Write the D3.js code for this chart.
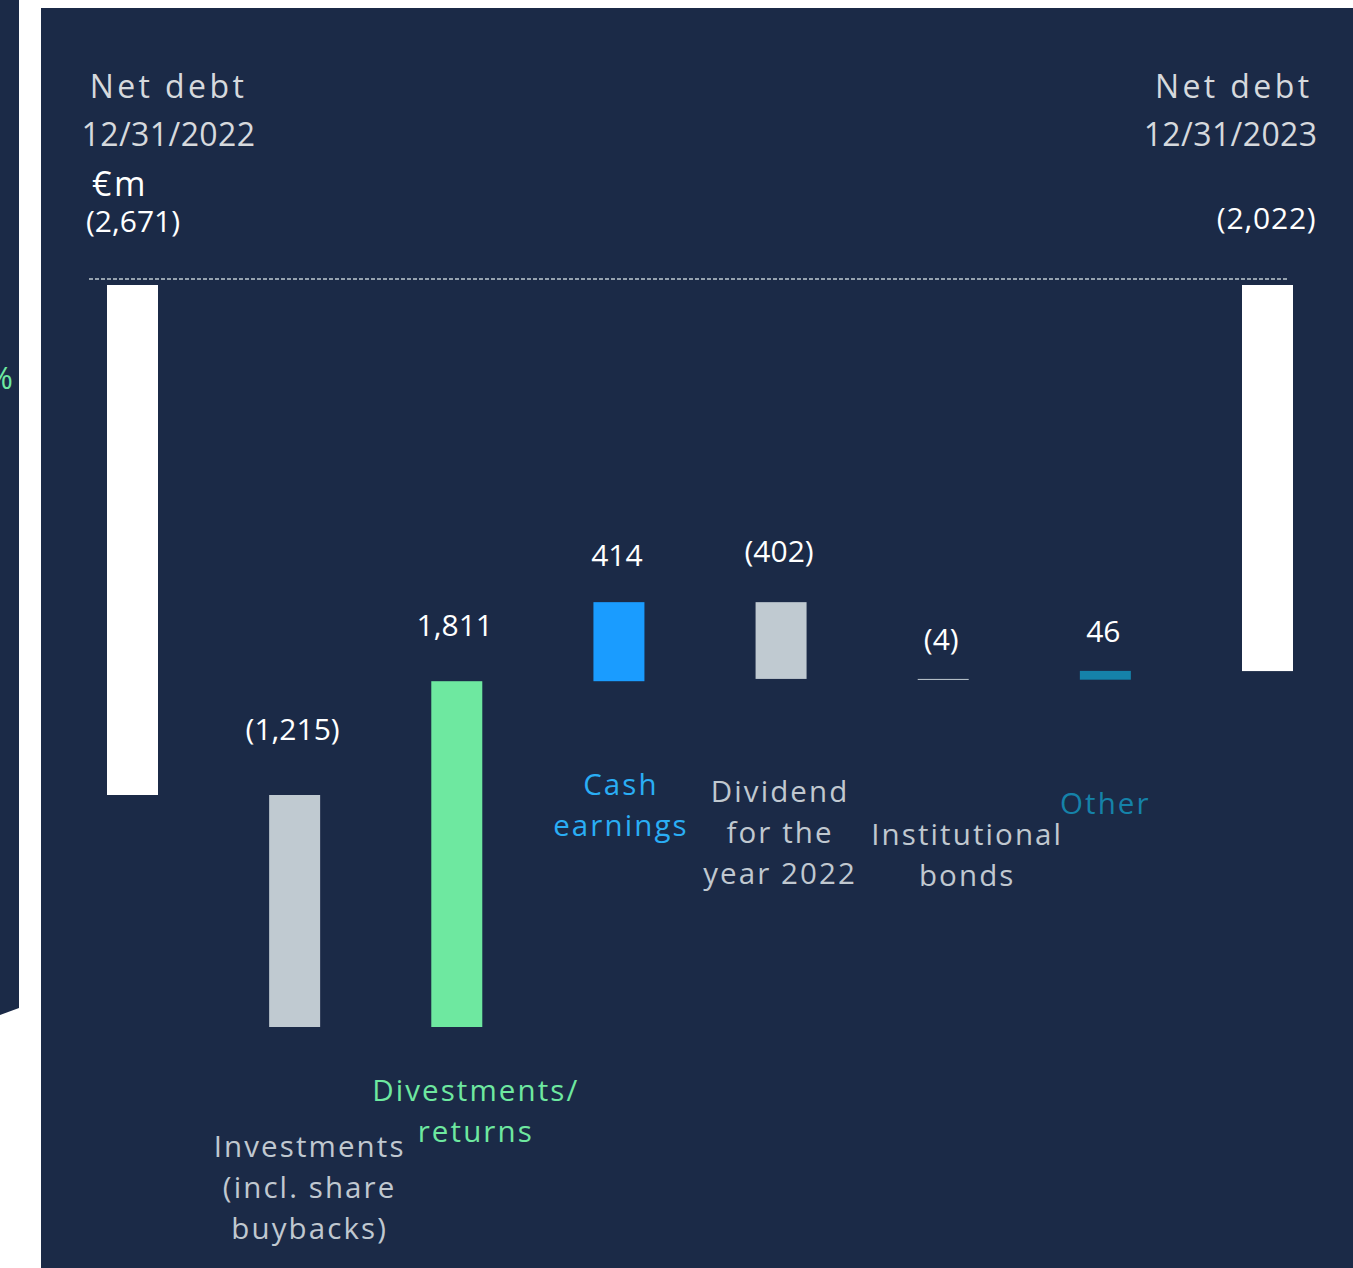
<html>
<head>
<meta charset="utf-8">
<script src="https://d3js.org/d3.v7.min.js"></script>
<style>
  body { margin: 0; background: #fff; }
  text { font-family: "Open Sans", Lato, sans-serif; }
</style>
</head>
<body>
<svg id="svg" width="1353" height="1268"></svg>
<script>
'use strict';

const width = 1353;
const height = 1268;

// data
const categories = ['start', 'investments', 'divestments', 'cash', 'dividend', 'bonds', 'other', 'end'];
const values = [-2671, -1215, 1811, 414, -402, -4, 46, -2022];
const isTotal = [true, false, false, false, false, false, false, true];
const valueLabels = ['(2,671)', '(1,215)', '1,811', '414', '(402)', '(4)', '46', '(2,022)'];
const categoryLabels = [
	[],
	['Investments', '(incl. share', 'buybacks)'],
	['Divestments/', 'returns'],
	['Cash', 'earnings'],
	['Dividend', 'for the', 'year 2022'],
	['Institutional', 'bonds'],
	['Other'],
	[]
];

// layout / styling (not data)
const barColors = ['#ffffff', '#c0cad1', '#6ee8a0', '#1a9cff', '#c0cad1', '#c0cad1', '#1582a9', '#ffffff'];
const labelColors = ['#d6d9dd', '#c0c8d0', '#6ee8a0', '#2aaef5', '#c0c8d0', '#c0c8d0', '#1582a9', '#d6d9dd'];
const valueLift = [0, 55, 45, 36, 40, 29, 29, 0];
const catBaseline = [0, 1157, 1101, 795, 802, 845, 814, 0];
const catShift = [0, 15, 19, 2, -1, 24, 0, 0];

const svg = d3.select('#svg');

// left partial panel and gap
svg.append('path')
	.attr('d', 'M0,0 L19,0 L19,1008 L0,1015 Z')
	.attr('fill', '#1b2a47');
svg.append('clipPath').attr('id', 'leftclip')
	.append('rect').attr('x', 0).attr('y', 0).attr('width', 19).attr('height', 1010);
svg.append('text')
	.attr('x', 13).attr('y', 389)
	.attr('text-anchor', 'end')
	.attr('font-size', 31)
	.attr('fill', '#6ee8a0')
	.attr('clip-path', 'url(#leftclip)')
	.text('%');

// main panel
svg.append('rect')
	.attr('x', 41).attr('y', 8)
	.attr('width', width - 41).attr('height', height - 8)
	.attr('fill', '#1b2a47');

// waterfall geometry
let running = 0;
const bars = categories.map((c, i) => {
	let y0, y1;
	if (isTotal[i]) {
		y0 = 0;
		y1 = values[i];
		running = values[i];
	} else {
		y0 = running;
		y1 = running + values[i];
		running = y1;
	}
	return {id: c, i, y0, y1};
});

const x = d3.scalePoint()
	.domain(categories)
	.range([132.5, 1267.5]);
const barWidth = 51;

const y = d3.scaleLinear()
	.domain([0, d3.min(bars, d => Math.min(d.y0, d.y1))])
	.range([285, 1027]);

// dashed zero line
svg.append('line')
	.attr('x1', 89).attr('x2', 1288)
	.attr('y1', 279).attr('y2', 279)
	.attr('stroke', '#c0cad1')
	.attr('stroke-width', 1.5)
	.attr('stroke-dasharray', '4,2');

svg.append('g')
	.selectAll('rect')
	.data(bars)
	.join('rect')
	.attr('x', d => x(d.id) - barWidth / 2)
	.attr('width', barWidth)
	.attr('y', d => Math.min(y(d.y0), y(d.y1)))
	.attr('height', d => Math.max(1, Math.abs(y(d.y0) - y(d.y1))))
	.attr('fill', d => barColors[d.i]);

// value labels for the movements
svg.append('g')
	.selectAll('text')
	.data(bars.filter(d => !isTotal[d.i]))
	.join('text')
	.attr('x', d => x(d.id) - 2)
	.attr('y', d => Math.min(y(d.y0), y(d.y1)) - valueLift[d.i])
	.attr('text-anchor', 'middle')
	.attr('font-size', 30)
	.attr('fill', '#ffffff')
	.text(d => valueLabels[d.i]);

// category labels
const catG = svg.append('g')
	.selectAll('text')
	.data(bars.filter(d => categoryLabels[d.i].length > 0))
	.join('text')
	.attr('text-anchor', 'middle')
	.attr('font-size', 29.5)
	.attr('letter-spacing', 2.1)
	.attr('fill', d => labelColors[d.i]);
catG.selectAll('tspan')
	.data(d => categoryLabels[d.i].map((t, k) => ({t, k, d})))
	.join('tspan')
	.attr('x', e => x(e.d.id) + catShift[e.d.i])
	.attr('y', e => catBaseline[e.d.i] + e.k * 41)
	.text(e => e.t);

// headers of the total bars
const startX = x(categories[0]);
const endX = x(categories[categories.length - 1]);
svg.append('text').attr('x', startX + 36).attr('y', 98)
	.attr('text-anchor', 'middle').attr('font-size', 32).attr('letter-spacing', 3.4)
	.attr('fill', '#d6d9dd').text('Net debt');
svg.append('text').attr('x', startX + 36).attr('y', 146)
	.attr('text-anchor', 'middle').attr('font-size', 32).attr('letter-spacing', 0.4)
	.attr('fill', '#d6d9dd').text('12/31/2022');
svg.append('text').attr('x', 92).attr('y', 196)
	.attr('font-size', 34).attr('letter-spacing', 2.5)
	.attr('fill', '#ffffff').text('€m');
svg.append('text').attr('x', 86).attr('y', 232)
	.attr('font-size', 30).attr('fill', '#ffffff').text(valueLabels[0]);

svg.append('text').attr('x', endX + 45).attr('y', 98)
	.attr('text-anchor', 'end').attr('font-size', 32).attr('letter-spacing', 3.4)
	.attr('fill', '#d6d9dd').text('Net debt');
svg.append('text').attr('x', endX + 50).attr('y', 146)
	.attr('text-anchor', 'end').attr('font-size', 32).attr('letter-spacing', 0.4)
	.attr('fill', '#d6d9dd').text('12/31/2023');
svg.append('text').attr('x', endX + 49).attr('y', 229)
	.attr('text-anchor', 'end').attr('font-size', 30).attr('letter-spacing', 0.8)
	.attr('fill', '#ffffff').text(valueLabels[7]);
</script>
</body>
</html>
